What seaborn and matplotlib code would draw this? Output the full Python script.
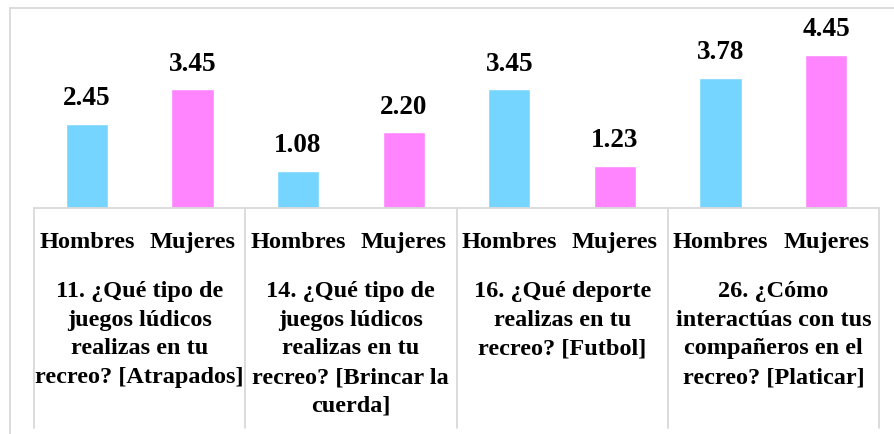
import pandas as pd
import matplotlib.pyplot as plt
import matplotlib.patches as patches
import seaborn as sns

# Data
preguntas = [
    "11. ¿Qué tipo de\njuegos lúdicos\nrealizas en tu\nrecreo? [Atrapados]",
    "14. ¿Qué tipo de\njuegos lúdicos\nrealizas en tu\nrecreo? [Brincar la\ncuerda]",
    "16. ¿Qué deporte\nrealizas en tu\nrecreo? [Futbol]",
    "26. ¿Cómo\ninteractúas con tus\ncompañeros en el\nrecreo? [Platicar]",
]
sexos = ["Hombres", "Mujeres"]
hombres = [2.45, 1.08, 3.45, 3.78]
mujeres = [3.45, 2.20, 1.23, 4.45]
colores = ["#75D5FF", "#FF85FF"]

df = pd.DataFrame({
    "pregunta": preguntas * 2,
    "sexo": ["Hombres"] * 4 + ["Mujeres"] * 4,
    "valor": hombres + mujeres,
})

sns.set_style("white")
plt.rcParams["font.family"] = ["Liberation Serif", "DejaVu Serif"]
plt.rcParams["text.color"] = "black"

W, H = 894, 434
fig = plt.figure(figsize=(W / 100, H / 100), dpi=100)

# outer chart frame (only top and left visible in the crop)
fig.patches.append(patches.Rectangle((10 / W, -0.1), 1.2, 1 - 8 / H + 0.1,
                                     transform=fig.transFigure, fill=False,
                                     edgecolor="#D9D9D9", linewidth=1.3))

base = 208
px_per_unit = 34.4
ax = fig.add_axes([34 / W, (H - base) / H, (879 - 34) / W, 5 * px_per_unit / H])

sns.barplot(data=df, x="pregunta", y="valor", hue="sexo", hue_order=sexos,
            palette=colores, width=1.0, gap=0.6, saturation=1, legend=False, ax=ax)
ax.set_ylim(0, 5)
ax.set_xlim(-0.5, 3.5)

for cont in ax.containers:
    ax.bar_label(cont, fmt="%.2f", padding=9, fontsize=19.5, fontweight="bold",
                 color="black")

# axes cleanup
for s in ["left", "top", "right"]:
    ax.spines[s].set_visible(False)
ax.spines["bottom"].set_color("#D9D9D9")
ax.spines["bottom"].set_linewidth(1.3)
ax.set_xticks([])
ax.set_yticks([])
ax.set_xlabel("")
ax.set_ylabel("")

# multi-level category labels
h = 5 * px_per_unit
trans = ax.get_xaxis_transform()
for i, q in enumerate(preguntas):
    for j, s in enumerate(sexos):
        ax.text(i - 0.25 + 0.5 * j, (base - 242) / h, s, transform=trans,
                ha="center", va="center", fontsize=17.5, fontweight="bold")
    ax.text(i, (base - 281) / h, q, transform=trans, ha="center", va="top",
            fontsize=17.5, fontweight="bold", linespacing=1.48)

# separators between groups
for k in range(5):
    ax.plot([k - 0.5, k - 0.5], [0, (base - 428) / h], transform=trans,
            color="#D9D9D9", linewidth=1.3, clip_on=False)

fig.savefig("out.png", dpi=100)
